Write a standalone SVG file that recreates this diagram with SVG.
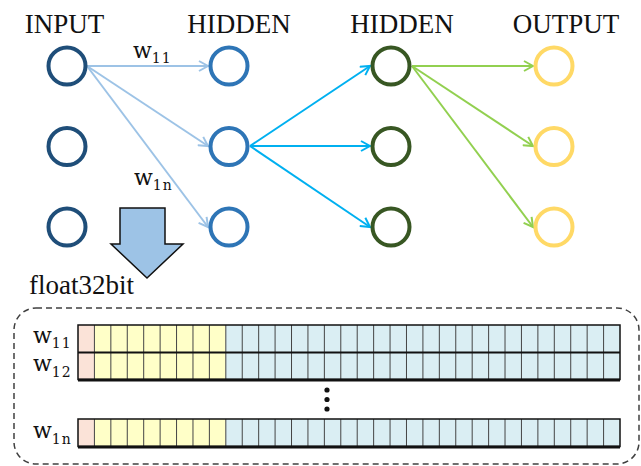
<svg xmlns="http://www.w3.org/2000/svg" width="641" height="466" viewBox="0 0 641 466">
  <style>
    .title { font-family: "Liberation Serif", "Times New Roman", serif; font-size: 27px; fill: #111; }
    .w { font-family: "DejaVu Serif", "Liberation Serif", serif; font-size: 22px; fill: #111; }
    .sub { font-family: "DejaVu Serif", "Liberation Serif", serif; font-size: 14px; letter-spacing: 1px; fill: #111; }
    .node { fill: #fff; stroke-width: 4; }
    .edge { fill: none; stroke-width: 2; }
    .e1 { stroke: #9DC3E6; }
    .e2 { stroke: #00B0F0; }
    .e3 { stroke: #92D050; }
    .pink { fill: #FBE3D8; }
    .yel { fill: #FFFFC8; }
    .blue { fill: #DAEEF3; }
    .grid { stroke: #444; stroke-width: 1; fill: none; }
  </style>
  <defs>
    <marker id="a1" markerUnits="userSpaceOnUse" markerWidth="12" markerHeight="12" refX="10" refY="6" orient="auto">
      <path d="M1,1 L10,6 L1,11" fill="none" stroke="#9DC3E6" stroke-width="2"/>
    </marker>
    <marker id="a2" markerUnits="userSpaceOnUse" markerWidth="12" markerHeight="12" refX="10" refY="6" orient="auto">
      <path d="M1,1 L10,6 L1,11" fill="none" stroke="#00B0F0" stroke-width="2"/>
    </marker>
    <marker id="a3" markerUnits="userSpaceOnUse" markerWidth="12" markerHeight="12" refX="10" refY="6" orient="auto">
      <path d="M1,1 L10,6 L1,11" fill="none" stroke="#92D050" stroke-width="2"/>
    </marker>
    <!-- one row of 33 cells: 1 sign, 8 exponent, 24 mantissa -->
    <g id="bitrow">
      <rect class="pink" x="78" y="0" width="16.42" height="27.5"/>
      <rect class="yel" x="94.42" y="0" width="131.36" height="27.5"/>
      <rect class="blue" x="225.78" y="0" width="394.22" height="27.5"/>
      <path class="grid" d="
        M94.42,0V27.5 M110.85,0V27.5 M127.27,0V27.5 M143.70,0V27.5 M160.12,0V27.5
        M176.55,0V27.5 M192.97,0V27.5 M209.39,0V27.5 M225.82,0V27.5 M242.24,0V27.5
        M258.67,0V27.5 M275.09,0V27.5 M291.52,0V27.5 M307.94,0V27.5 M324.36,0V27.5
        M340.79,0V27.5 M357.21,0V27.5 M373.64,0V27.5 M390.06,0V27.5 M406.48,0V27.5
        M422.91,0V27.5 M439.33,0V27.5 M455.76,0V27.5 M472.18,0V27.5 M488.61,0V27.5
        M505.03,0V27.5 M521.45,0V27.5 M537.88,0V27.5 M554.30,0V27.5 M570.73,0V27.5
        M587.15,0V27.5 M603.58,0V27.5"/>
    </g>
  </defs>

  <!-- layer titles -->
  <g id="titles">
    <text class="title" x="64.5" y="33" text-anchor="middle">INPUT</text>
    <text class="title" x="239" y="33" text-anchor="middle">HIDDEN</text>
    <text class="title" x="402" y="33" text-anchor="middle">HIDDEN</text>
    <text class="title" x="566" y="33" text-anchor="middle">OUTPUT</text>
  </g>

  <!-- connectors -->
  <g id="connectors">
    <line class="edge e1" x1="87" y1="66" x2="208" y2="66" marker-end="url(#a1)"/>
    <line class="edge e1" x1="87" y1="66" x2="208" y2="146" marker-end="url(#a1)"/>
    <line class="edge e1" x1="87" y1="66" x2="208" y2="227" marker-end="url(#a1)"/>
    <line class="edge e2" x1="250" y1="146" x2="370" y2="66" marker-end="url(#a2)"/>
    <line class="edge e2" x1="250" y1="146" x2="370" y2="146" marker-end="url(#a2)"/>
    <line class="edge e2" x1="250" y1="146" x2="370" y2="227" marker-end="url(#a2)"/>
    <line class="edge e3" x1="412" y1="66" x2="533" y2="66" marker-end="url(#a3)"/>
    <line class="edge e3" x1="412" y1="66" x2="533" y2="146" marker-end="url(#a3)"/>
    <line class="edge e3" x1="412" y1="66" x2="533" y2="227" marker-end="url(#a3)"/>
  </g>

  <!-- weight labels on edges -->
  <g id="edge-labels">
    <text x="133" y="58"><tspan class="w">w</tspan><tspan class="sub" dy="5">11</tspan></text>
    <text x="134" y="185"><tspan class="w">w</tspan><tspan class="sub" dy="5">1n</tspan></text>
  </g>

  <!-- input layer -->
  <g id="in1"><circle class="node" cx="67" cy="66" r="18.5" stroke="#1F4E79"/></g>
  <g id="in2"><circle class="node" cx="67" cy="146.5" r="18.5" stroke="#1F4E79"/></g>
  <g id="in3"><circle class="node" cx="67" cy="227" r="18.5" stroke="#1F4E79"/></g>
  <!-- first hidden layer -->
  <g id="h1a"><circle class="node" cx="229" cy="66" r="18.5" stroke="#2E75B6"/></g>
  <g id="h1b"><circle class="node" cx="229" cy="146.5" r="18.5" stroke="#2E75B6"/></g>
  <g id="h1c"><circle class="node" cx="229" cy="227" r="18.5" stroke="#2E75B6"/></g>
  <!-- second hidden layer -->
  <g id="h2a"><circle class="node" cx="391" cy="66" r="18.5" stroke="#385723"/></g>
  <g id="h2b"><circle class="node" cx="391" cy="146.5" r="18.5" stroke="#385723"/></g>
  <g id="h2c"><circle class="node" cx="391" cy="227" r="18.5" stroke="#385723"/></g>
  <!-- output layer -->
  <g id="out1"><circle class="node" cx="554" cy="66" r="18.5" stroke="#FFD966"/></g>
  <g id="out2"><circle class="node" cx="554" cy="146.5" r="18.5" stroke="#FFD966"/></g>
  <g id="out3"><circle class="node" cx="554" cy="227" r="18.5" stroke="#FFD966"/></g>

  <!-- block arrow down to the bit layout -->
  <g id="down-arrow">
    <polygon points="120,208 165,208 165,244 183,244 147,278 111,244 120,244" fill="#9DC3E6" stroke="#111" stroke-width="1.5" stroke-linejoin="miter"/>
  </g>

  <g id="float-label">
    <text class="title" x="29" y="294">float32bit</text>
  </g>

  <!-- bit layout panel -->
  <g id="bit-panel">
    <rect x="14" y="308" width="625" height="156" rx="22" ry="22" fill="none" stroke="#404040" stroke-width="1.5" stroke-dasharray="6 4"/>

    <!-- row labels -->
    <text x="33" y="343"><tspan class="w">w</tspan><tspan class="sub" dy="5">11</tspan></text>
    <text x="33" y="371"><tspan class="w">w</tspan><tspan class="sub" dy="6">12</tspan></text>
    <text x="33" y="438"><tspan class="w">w</tspan><tspan class="sub" dy="6">1n</tspan></text>

    <use href="#bitrow" y="325"/>
    <use href="#bitrow" y="352.5"/>
    <use href="#bitrow" y="419"/>

    <!-- row outlines -->
    <rect x="78" y="325" width="542" height="54.5" fill="none" stroke="#111" stroke-width="1.5"/>
    <line x1="78" y1="352.5" x2="620" y2="352.5" stroke="#111" stroke-width="2"/>
    <line x1="78" y1="380" x2="620" y2="380" stroke="#111" stroke-width="3"/>
    <rect x="78" y="419" width="542" height="27.5" fill="none" stroke="#111" stroke-width="1.5"/>
    <line x1="78" y1="447" x2="620" y2="447" stroke="#111" stroke-width="3"/>

    <!-- vertical ellipsis -->
    <circle cx="327" cy="390" r="2.6" fill="#111"/>
    <circle cx="327" cy="399.5" r="2.6" fill="#111"/>
    <circle cx="327" cy="409" r="2.6" fill="#111"/>
  </g>
</svg>
